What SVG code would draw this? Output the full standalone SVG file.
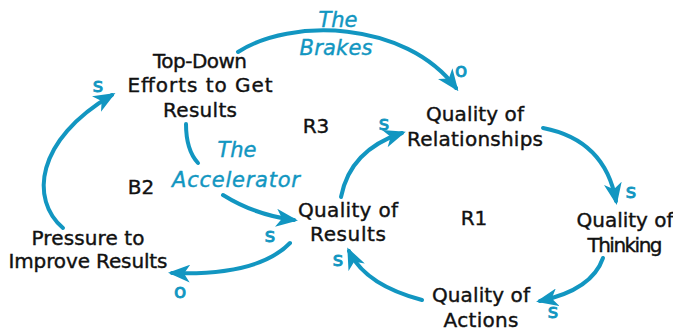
<svg xmlns="http://www.w3.org/2000/svg" width="673" height="331" viewBox="0 0 673 331">
  <style>
    .node { font-family: "DejaVu Sans", "Liberation Sans", sans-serif; font-size: 20px; fill: #111; stroke: #111; stroke-width: 0.4; text-anchor: middle; }
    .loop { font-family: "DejaVu Sans", "Liberation Sans", sans-serif; font-size: 20px; fill: #111; stroke: #111; stroke-width: 0.4; text-anchor: middle; }
    .tag { font-family: "DejaVu Sans", "Liberation Sans", sans-serif; font-size: 21px; font-style: italic; fill: #1296c1; stroke: #1296c1; stroke-width: 0.4; text-anchor: middle; }
    .pol { font-family: "DejaVu Sans", "Liberation Sans", sans-serif; font-size: 20px; fill: #1296c1; stroke: #1296c1; stroke-width: 0.9; text-anchor: middle; }
    .link { fill: none; stroke: #1296c1; stroke-width: 4; stroke-linecap: round; }
  </style>
  <defs>
    <marker id="head" viewBox="0 0 22 18" refX="18" refY="9" markerWidth="22" markerHeight="18" markerUnits="userSpaceOnUse" orient="auto">
      <path d="M0,0 L22,9 L0,18 L6,9 Z" fill="#1296c1"/>
    </marker>
  </defs>

  <rect width="673" height="331" fill="#ffffff"/>

  <!-- causal links -->
  <g id="connectors">
    <path class="link" marker-end="url(#head)" d="M238,52 C290,18 405,20 456,88"/>
    <path class="link" marker-end="url(#head)" d="M63,228 C30,200 35,140 112,95"/>
    <path class="link" d="M186,124 Q186,150 198,163"/>
    <path class="link" marker-end="url(#head)" d="M223,195 Q255,215 294,220"/>
    <path class="link" marker-end="url(#head)" d="M290,243 Q258,276 172,273"/>
    <path class="link" marker-end="url(#head)" d="M341,197 Q350,150 402,133"/>
    <path class="link" marker-end="url(#head)" d="M543,128 Q605,140 616,201"/>
    <path class="link" marker-end="url(#head)" d="M603,258 Q592,290 540,301"/>
    <path class="link" marker-end="url(#head)" d="M422,300 Q365,285 349,251"/>
  </g>

  <g id="top-down-efforts">
    <text class="node" x="200" y="68" textLength="94">Top-Down</text>
    <text class="node" x="200" y="92" textLength="145">Efforts to Get</text>
    <text class="node" x="200" y="117" textLength="74">Results</text>
  </g>
  <g id="quality-relationships">
    <text class="node" x="475" y="121" textLength="98">Quality of</text>
    <text class="node" x="475" y="146" textLength="136">Relationships</text>
  </g>
  <g id="quality-thinking">
    <text class="node" x="625" y="227" textLength="97">Quality of</text>
    <text class="node" x="625" y="252" textLength="75">Thinking</text>
  </g>
  <g id="quality-actions">
    <text class="node" x="481" y="302" textLength="98">Quality of</text>
    <text class="node" x="481" y="327" textLength="75">Actions</text>
  </g>
  <g id="quality-results">
    <text class="node" x="348" y="217" textLength="100">Quality of</text>
    <text class="node" x="348" y="241" textLength="76">Results</text>
  </g>
  <g id="pressure">
    <text class="node" x="88" y="245" textLength="113">Pressure to</text>
    <text class="node" x="88" y="268" textLength="159">Improve Results</text>
  </g>

  <!-- loop identifiers -->
  <g id="loop-labels">
    <text class="loop" x="316" y="133">R3</text>
    <text class="loop" x="141" y="194">B2</text>
    <text class="loop" x="474" y="225">R1</text>
  </g>

  <!-- loop names -->
  <g id="loop-names">
    <text class="tag" x="338" y="27">The</text>
    <text class="tag" x="336" y="55" textLength="73">Brakes</text>
    <text class="tag" x="237" y="157">The</text>
    <text class="tag" x="236" y="187" textLength="128">Accelerator</text>
  </g>

  <!-- link polarities -->
  <g id="polarities">
    <text class="pol" x="98" y="92">s</text>
    <text class="pol" x="461" y="77">o</text>
    <text class="pol" x="384" y="130">s</text>
    <text class="pol" x="631" y="198">s</text>
    <text class="pol" x="270" y="242">s</text>
    <text class="pol" x="180" y="298">o</text>
    <text class="pol" x="338" y="266">s</text>
    <text class="pol" x="553" y="318">s</text>
  </g>
</svg>
